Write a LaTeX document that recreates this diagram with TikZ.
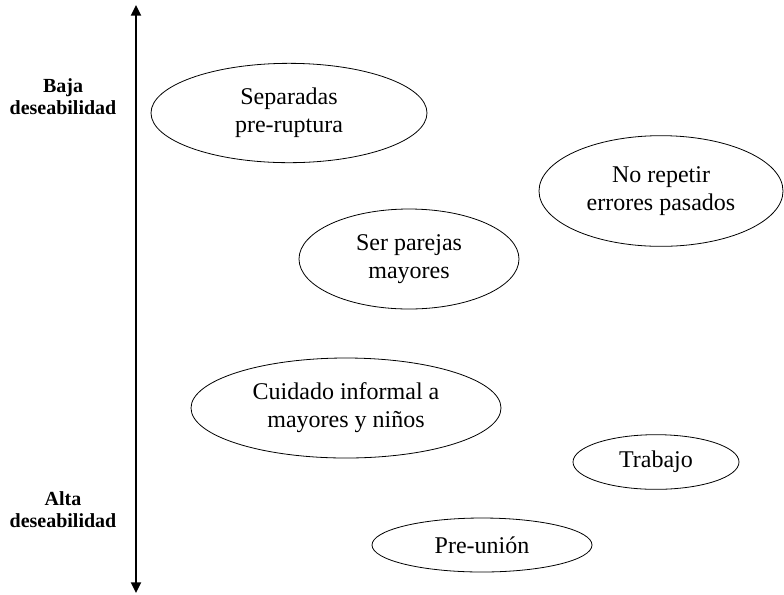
\documentclass[tikz,border=0pt]{standalone}
\usepackage{fontspec}
\setmainfont{Liberation Serif}
\usetikzlibrary{arrows.meta, shapes.geometric}

\tikzset{
  option/.style={draw, ellipse, inner sep=0pt, align=center, font=\fontsize{18}{21}\selectfont},
  level/.style={align=center, font=\fontsize{15}{16.5}\selectfont\bfseries}
}

\begin{document}
\begin{tikzpicture}[x=0.75pt, y=-0.75pt, line width=0.6pt]
    \useasboundingbox (0,0) rectangle (784,594);
    % vertical axis
    \coordinate (top) at (136,5);
    \coordinate (bottom) at (136,593);
    \draw[line width=1.5pt, {Triangle[width=7.5pt,length=8pt]}-{Triangle[width=7.5pt,length=8pt]}] (bottom) -- (top);
    \node (baja) [level] at (63,97) {Baja\\deseabilidad};
    \node (alta) [level] at (63,510) {Alta\\deseabilidad};
    % ellipses
    \node (separadas) [option, minimum width=207pt, minimum height=74.5pt] at (289,113) {Separadas\\pre-ruptura};
    \node (norepetir) [option, minimum width=183pt, minimum height=83pt] at (661,191) {No repetir\\errores pasados};
    \node (mayores) [option, minimum width=165pt, minimum height=75pt] at (409,259) {Ser parejas\\mayores};
    \node (cuidado) [option, minimum width=232.5pt, minimum height=75pt] at (346,408) {Cuidado informal a\\mayores y niños};
    \node (trabajo) [option, minimum width=124.5pt, minimum height=41pt] at (656,462) {Trabajo};
    \node (preunion) [option, minimum width=165pt, minimum height=40.5pt] at (482,545) {Pre-unión};
\end{tikzpicture}
\end{document}
